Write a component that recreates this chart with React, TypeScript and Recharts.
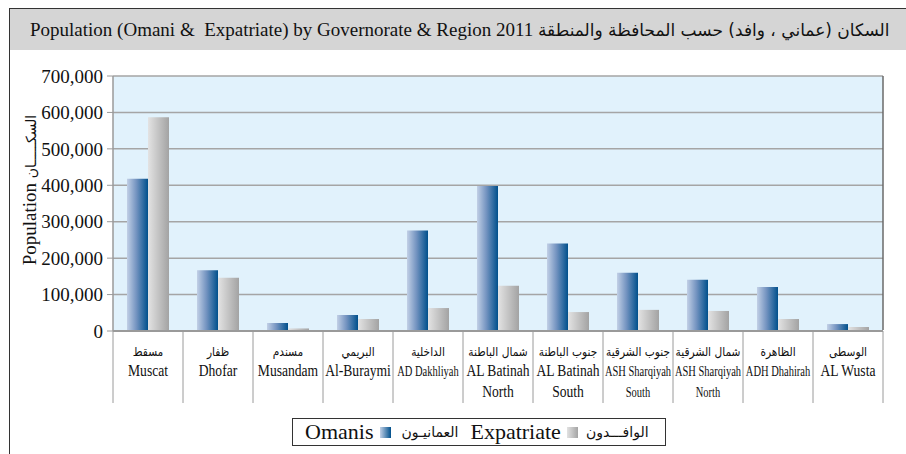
import React from 'react';
import { BarChart, Bar, XAxis, YAxis, CartesianGrid, Legend } from 'recharts';

const regionsAr = ['مسقط', 'ظفار', 'مسندم', 'البريمي', 'الداخلية', 'شمال الباطنة', 'جنوب الباطنة', 'جنوب الشرقية', 'شمال الشرقية', 'الظاهرة', 'الوسطى'];
const regionsEn = ['Muscat', 'Dhofar', 'Musandam', 'Al-Buraymi', 'AD Dakhliyah', 'AL Batinah', 'AL Batinah', 'ASH Sharqiyah', 'ASH Sharqiyah', 'ADH Dhahirah', 'AL Wusta'];
const regionsEn2 = ['', '', '', '', '', 'North', 'South', 'South', 'North', '', ''];
const omanis = [418000, 167000, 22000, 44000, 276000, 398000, 240000, 160000, 141000, 121000, 19000];
const expatriates = [587000, 146000, 7000, 33000, 63000, 124000, 52000, 58000, 55000, 33000, 11000];
const yTicks = [0, 100000, 200000, 300000, 400000, 500000, 600000, 700000];

// labels that are set in a narrow face in the original
const narrow = [4, 7, 8, 9];

const data = regionsEn.map((en, i) => ({
    name: en + ' ' + regionsEn2[i],
    ar: regionsAr[i],
    en,
    en2: regionsEn2[i],
    omanis: omanis[i],
    expatriates: expatriates[i],
}));

const serif = '"Liberation Serif", "Times New Roman", serif';
const arabic = '"DejaVu Sans", sans-serif';

const RegionTick = (props: any) => {
    const { x, y, payload, index } = props;
    const i = payload.index ?? index;
    const d = data[i];
    const half = props.width ? props.width / data.length / 2 : 35;
    const isNarrow = narrow.includes(i);
    const sx = isNarrow ? 0.7 : 0.8;
    const fs = isNarrow ? 15 : 17;
    const last = i === data.length - 1;
    return (
        <g>
            <line x1={x - half} x2={x - half} y1={y} y2={y + 72} stroke="#9a9a9a" strokeWidth={1} />
            {last && <line x1={x + half} x2={x + half} y1={y} y2={y + 72} stroke="#9a9a9a" strokeWidth={1} />}
            <g transform={`translate(${x},${y + 25}) scale(0.85,1)`}>
                <text x={0} y={0} textAnchor="middle" fontFamily={arabic} fontSize={12.5} fill="#111">
                    {d.ar}
                </text>
            </g>
            <g transform={`translate(${x},${y + 45}) scale(${sx},1)`}>
                <text x={0} y={0} textAnchor="middle" fontFamily={serif} fontSize={fs} fill="#111">
                    {d.en}
                </text>
                {d.en2 && (
                    <text x={0} y={21} textAnchor="middle" fontFamily={serif} fontSize={fs} fill="#111">
                        {d.en2}
                    </text>
                )}
            </g>
        </g>
    );
};

const LegendBox = () => (
    <div
        style={{
            boxSizing: 'border-box',
            width: 374,
            height: 28,
            border: '1.5px solid #333',
            display: 'flex',
            alignItems: 'center',
            paddingLeft: 12,
            fontFamily: serif,
            fontSize: 22,
            color: '#111',
            whiteSpace: 'nowrap',
        }}
    >
        <span>Omanis</span>
        <span
            style={{
                display: 'inline-block',
                width: 11,
                height: 11,
                marginLeft: 7,
                background: 'linear-gradient(to right, #c2d0e6, #00508c)',
            }}
        />
        <span style={{ fontFamily: arabic, fontSize: 14, marginLeft: 10 }}>العمانيـون</span>
        <span style={{ marginLeft: 12 }}>Expatriate</span>
        <span
            style={{
                display: 'inline-block',
                width: 11,
                height: 11,
                marginLeft: 6,
                background: 'linear-gradient(to right, #e2e2e2, #a4a4a4)',
            }}
        />
        <span style={{ fontFamily: arabic, fontSize: 14, marginLeft: 8 }}>الوافـــدون</span>
    </div>
);

export default function App() {
    return (
        <div style={{ position: 'absolute', left: 0, top: 0, width: 906, height: 454, background: '#fff', overflow: 'hidden' }}>
            <div
                style={{
                    position: 'absolute',
                    left: 9,
                    top: 8,
                    right: 0,
                    bottom: 0,
                    borderLeft: '1.5px solid #333',
                    borderTop: '1.5px solid #333',
                }}
            />
            <div
                style={{
                    position: 'absolute',
                    left: 10,
                    top: 9,
                    width: 896,
                    height: 41,
                    background: '#d5d5d5',
                    fontFamily: serif,
                    fontSize: 19,
                    lineHeight: '41px',
                    paddingLeft: 20,
                    boxSizing: 'border-box',
                    color: '#111',
                    whiteSpace: 'nowrap',
                }}
            >
                Population (Omani &amp;&nbsp; Expatriate) by Governorate &amp; Region 2011{' '}
                <span style={{ fontFamily: arabic, fontSize: 17 }}>السكان (عماني ، وافد) حسب المحافظة والمنطقة</span>
            </div>
            <div style={{ position: 'absolute', left: 0, top: 0 }}>
                <BarChart
                    width={906}
                    height={454}
                    data={data}
                    margin={{ top: 76, right: 23, bottom: 23, left: 13 }}
                    barCategoryGap="20%"
                    barGap={0}
                >
                    <defs>
                        <linearGradient id="gOman" x1="0" y1="0" x2="1" y2="0">
                            <stop offset="0%" stopColor="#c2d0e6" />
                            <stop offset="45%" stopColor="#7393c0" />
                            <stop offset="100%" stopColor="#00508c" />
                        </linearGradient>
                        <linearGradient id="gExp" x1="0" y1="0" x2="1" y2="0">
                            <stop offset="0%" stopColor="#e3e3e3" />
                            <stop offset="100%" stopColor="#a3a3a3" />
                        </linearGradient>
                    </defs>
                    <CartesianGrid vertical={false} fill="#e1f2fc" stroke="#a5a5a5" strokeWidth={1.5} />
                    <XAxis
                        dataKey="name"
                        interval={0}
                        height={72}
                        tickLine={false}
                        tickSize={0}
                        tickMargin={0}
                        axisLine={{ stroke: '#9a9a9a', strokeWidth: 2 }}
                        tick={<RegionTick />}
                    />
                    <YAxis
                        width={100}
                        domain={[0, 700000]}
                        ticks={yTicks}
                        interval={0}
                        tickSize={6}
                        tickMargin={4}
                        tickLine={{ stroke: '#9a9a9a' }}
                        axisLine={{ stroke: '#9a9a9a', strokeWidth: 1.5 }}
                        tickFormatter={(v: number) => v.toLocaleString('en-US')}
                        tick={{ fontFamily: serif, fontSize: 19, fill: '#111' }}
                        label={{
                            content: () => (
                                <text
                                    transform="translate(36,190) rotate(-90)"
                                    textAnchor="middle"
                                    fontFamily={serif}
                                    fontSize={19}
                                    fill="#111"
                                >
                                    Population{' '}
                                    <tspan fontFamily={arabic} fontSize={14}>
                                        السكـــــان
                                    </tspan>
                                </text>
                            ),
                        }}
                    />
                    <Bar dataKey="omanis" name="Omanis" fill="url(#gOman)" isAnimationActive={false} />
                    <Bar dataKey="expatriates" name="Expatriate" fill="url(#gExp)" isAnimationActive={false} />
                    <Legend content={() => <LegendBox />} wrapperStyle={{ left: 292, top: 418, width: 374, height: 28 }} />
                    <line x1={883} x2={883} y1={76} y2={330} stroke="#6a6a6a" strokeWidth={1.5} />
                </BarChart>
            </div>
        </div>
    );
}
